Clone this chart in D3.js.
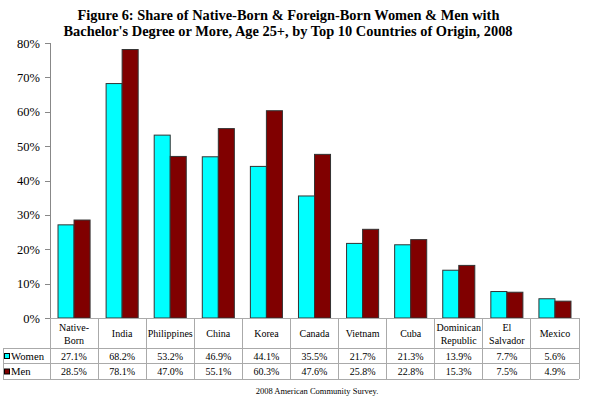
<!DOCTYPE html>
<html>
<head>
<meta charset="utf-8">
<script src="https://cdn.jsdelivr.net/npm/d3@7"></script>
<style>
  body { margin: 0; background: #fff; }
  svg { display: block; font-family: "Liberation Serif", "Times New Roman", serif; }
  .axis path, .axis line { stroke: #888; shape-rendering: crispEdges; }
  .axis text { font-size: 12.5px; fill: #000; }
  .grid { stroke: #aaa; shape-rendering: crispEdges; }
  .cell { font-size: 10px; fill: #000; }
</style>
</head>
<body>
<div id="chart"></div>
<script>
// data
var categories = ["Native-Born", "India", "Philippines", "China", "Korea", "Canada",
                  "Vietnam", "Cuba", "Dominican Republic", "El Salvador", "Mexico"];
var categoryLines = [["Native-", "Born"], ["India"], ["Philippines"], ["China"], ["Korea"], ["Canada"],
                     ["Vietnam"], ["Cuba"], ["Dominican", "Republic"], ["El", "Salvador"], ["Mexico"]];
var seriesNames = ["Women", "Men"];
var women = [27.1, 68.2, 53.2, 46.9, 44.1, 35.5, 21.7, 21.3, 13.9, 7.7, 5.6];
var men = [28.5, 78.1, 47.0, 55.1, 60.3, 47.6, 25.8, 22.8, 15.3, 7.5, 4.9];
var yTicks = [0, 10, 20, 30, 40, 50, 60, 70, 80];
var colors = {Women: "#00ffff", Men: "#800000"};

var w = 590, h = 397;
var margin = {top: 43, left: 50, right: 11, bottom: 79};
var tableLeft = 3;
var rowCat = 30, rowVal = 15.5;
var serif = "Liberation Serif, Times New Roman, serif";

var svg = d3.select("#chart").append("svg")
    .attr("width", w)
    .attr("height", h)
    .attr("font-family", serif);

// title
var title = svg.append("text")
    .attr("text-anchor", "middle")
    .attr("font-family", serif)
    .style("font-weight", "bold")
    .style("font-size", "14.4px");
title.append("tspan").attr("x", 288.5).attr("y", 19.5)
    .text("Figure 6: Share of Native-Born & Foreign-Born Women & Men with");
title.append("tspan").attr("x", 288).attr("y", 36)
    .text("Bachelor's Degree or More, Age 25+, by Top 10 Countries of Origin, 2008");

var baseY = h - margin.bottom;

var x0 = d3.scaleBand()
    .domain(categories)
    .range([margin.left, w - margin.right])
    .padding(0);

var x1 = d3.scaleBand()
    .domain(seriesNames)
    .range([0, x0.bandwidth()])
    .paddingInner(0)
    .paddingOuter(0.5);

var y = d3.scaleLinear()
    .domain([0, 80])
    .range([baseY, margin.top]);

// y axis
var yAxis = d3.axisLeft(y)
    .tickValues(yTicks)
    .tickSize(5)
    .tickPadding(5)
    .tickFormat(function(d) { return d + "%"; });

svg.append("g")
    .attr("class", "axis")
    .attr("transform", "translate(" + margin.left + ",0)")
    .call(yAxis)
    .attr("font-family", serif)
    .attr("font-size", 12.5)
    .call(function(g) { g.select(".domain").attr("d", "M0," + margin.top + "V" + baseY); });

// bars
var rows = categories.map(function(c, i) {
    return {cat: c, Women: women[i], Men: men[i]};
});

var groups = svg.append("g").selectAll("g")
    .data(rows)
    .enter().append("g")
    .attr("transform", function(d) { return "translate(" + x0(d.cat) + ",0)"; });

groups.selectAll("rect")
    .data(function(d) { return seriesNames.map(function(s) { return {key: s, value: d[s]}; }); })
    .enter().append("rect")
    .attr("x", function(d) { return x1(d.key); })
    .attr("y", function(d) { return y(d.value); })
    .attr("width", x1.bandwidth())
    .attr("height", function(d) { return baseY - y(d.value); })
    .attr("fill", function(d) { return colors[d.key]; })
    .attr("stroke", "#333")
    .attr("stroke-width", 1);

// data table
var table = svg.append("g");
var yCatBottom = baseY + rowCat,
    yWomenBottom = yCatBottom + rowVal,
    yMenBottom = yWomenBottom + rowVal;

// horizontal lines
table.append("line").attr("class", "grid")
    .attr("x1", margin.left).attr("x2", w - margin.right)
    .attr("y1", baseY).attr("y2", baseY);
[yCatBottom, yWomenBottom, yMenBottom].forEach(function(yy) {
    table.append("line").attr("class", "grid")
        .attr("x1", tableLeft).attr("x2", w - margin.right)
        .attr("y1", yy).attr("y2", yy);
});

// vertical lines
x0.domain().forEach(function(c) {
    table.append("line").attr("class", "grid")
        .attr("x1", x0(c)).attr("x2", x0(c))
        .attr("y1", baseY).attr("y2", yMenBottom);
});
table.append("line").attr("class", "grid")
    .attr("x1", w - margin.right).attr("x2", w - margin.right)
    .attr("y1", baseY).attr("y2", yMenBottom);
table.append("line").attr("class", "grid")
    .attr("x1", tableLeft).attr("x2", tableLeft)
    .attr("y1", yCatBottom).attr("y2", yMenBottom);

// category labels
categories.forEach(function(c, i) {
    var lines = categoryLines[i];
    var cx = x0(c) + x0.bandwidth() / 2;
    var t = table.append("text")
        .attr("class", "cell")
        .attr("font-family", serif)
        .attr("text-anchor", "middle");
    var startY = baseY + rowCat / 2 + 4 - (lines.length - 1) * 6.5;
    lines.forEach(function(l, j) {
        t.append("tspan").attr("x", cx).attr("y", startY + j * 13).text(l);
    });
});

// value rows
var seriesData = {Women: women, Men: men};
seriesNames.forEach(function(s, r) {
    var rowTop = yCatBottom + r * rowVal;
    // legend key
    table.append("rect")
        .attr("x", 4.5).attr("y", rowTop + 5.5)
        .attr("width", 5).attr("height", 5)
        .attr("fill", colors[s])
        .attr("stroke", "#000");
    table.append("text")
        .attr("class", "cell")
        .attr("font-family", serif)
        .attr("x", 11)
        .attr("y", rowTop + 11.5)
        .style("font-size", "10.7px")
        .text(s);
    seriesData[s].forEach(function(v, i) {
        table.append("text")
            .attr("class", "cell")
            .attr("font-family", serif)
            .attr("text-anchor", "middle")
            .attr("x", x0(categories[i]) + x0.bandwidth() / 2)
            .attr("y", rowTop + 11.5)
            .text(v.toFixed(1) + "%");
    });
});

// source
svg.append("text")
    .attr("x", 317)
    .attr("y", 394)
    .attr("text-anchor", "middle")
    .attr("font-family", serif)
    .style("font-size", "8.5px")
    .text("2008 American Community Survey.");
</script>
</body>
</html>
